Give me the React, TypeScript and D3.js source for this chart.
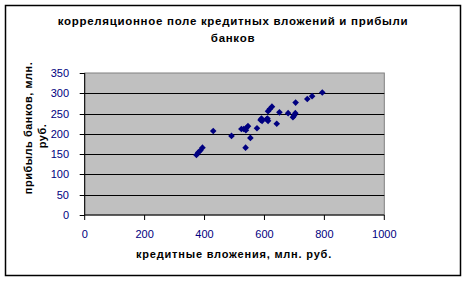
import React from "react";
import * as d3 from "d3";

const credit = [373, 379, 386, 393, 429, 490, 523, 531, 537, 538, 540, 545, 553, 575, 587, 590, 592, 607, 610, 612, 612, 618, 625, 641, 650, 679, 695, 699, 703, 704, 743, 759, 793];
const profit = [148, 154, 159, 166, 207, 195, 212, 212, 166, 209, 215, 219, 190, 214, 234, 238, 232, 236, 238, 232, 256, 261, 267, 225, 253, 251, 241, 245, 251, 277, 286, 293, 302];
const xTicks = [0, 200, 400, 600, 800, 1000];
const yTicks = [0, 50, 100, 150, 200, 250, 300, 350];
const titleLines = ["корреляционное поле кредитных вложений и прибыли", "банков"];
const xTitle = "кредитные вложения, млн. руб.";
const yTitleLines = ["прибыль банков, млн.", "руб."];

export default function App() {
  const W = 468, H = 282;
  const left = 84.7, right = 384.3, top = 73, bottom = 215;
  const x = d3.scaleLinear().domain([0, 1000]).range([left, right]);
  const y = d3.scaleLinear().domain([0, 350]).range([bottom, top]);
  const font = "Arial, 'Liberation Sans', sans-serif";
  const navy = "#000080";
  const r = 3.3;
  return (
    <svg width={W} height={H} style={{ position: "absolute", left: 0, top: 0 }} fontFamily={font}>
      <rect x={0} y={0} width={W} height={H} fill="#fff" />
      <rect x={5.5} y={5.5} width={455} height={270} fill="#fff" stroke="#000" strokeWidth={1.5} />
      {titleLines.map((t, i) => (
        <text key={i} x={233} y={25 + i * 16.5} textAnchor="middle" fontSize={11.5} fontWeight="bold" letterSpacing={0.7}>{t}</text>
      ))}
      <rect x={left} y={top} width={right - left} height={bottom - top} fill="#c0c0c0" stroke="#808080" strokeWidth={1} />
      {yTicks.filter(v => v > 0 && v < 350).map(v => (
        <line key={v} x1={left} x2={right} y1={Math.round(y(v)) + 0.5} y2={Math.round(y(v)) + 0.5} stroke="#000" strokeWidth={1} />
      ))}
      <line x1={left} x2={left} y1={top} y2={bottom} stroke="#000" />
      <line x1={left} x2={right} y1={bottom} y2={bottom} stroke="#000" />
      {yTicks.map(v => (
        <g key={v}>
          <line x1={left - 5} x2={left} y1={Math.round(y(v)) + 0.5} y2={Math.round(y(v)) + 0.5} stroke="#000" />
          <text x={69} y={y(v) + 4} textAnchor="end" fontSize={11} fill={navy}>{v}</text>
        </g>
      ))}
      {xTicks.map(v => (
        <g key={v}>
          <line x1={x(v)} x2={x(v)} y1={bottom} y2={bottom + 5} stroke="#000" />
          <text x={x(v)} y={237.5} textAnchor="middle" fontSize={11} fill={navy}>{v}</text>
        </g>
      ))}
      <text x={234} y={258} textAnchor="middle" fontSize={11} fontWeight="bold" letterSpacing={0.8}>{xTitle}</text>
      <text transform={`translate(32,128) rotate(-90)`} textAnchor="middle" fontSize={11} fontWeight="bold" letterSpacing={0.5}>{yTitleLines[0]}</text>
      <text transform={`translate(46,136) rotate(-90)`} textAnchor="middle" fontSize={11} fontWeight="bold" letterSpacing={0.5}>{yTitleLines[1]}</text>
      {credit.map((c, i) => {
        const cx = x(c), cy = y(profit[i]);
        return <path key={i} d={`M${cx},${cy - r}L${cx + r},${cy}L${cx},${cy + r}L${cx - r},${cy}Z`} fill={navy} />;
      })}
    </svg>
  );
}
